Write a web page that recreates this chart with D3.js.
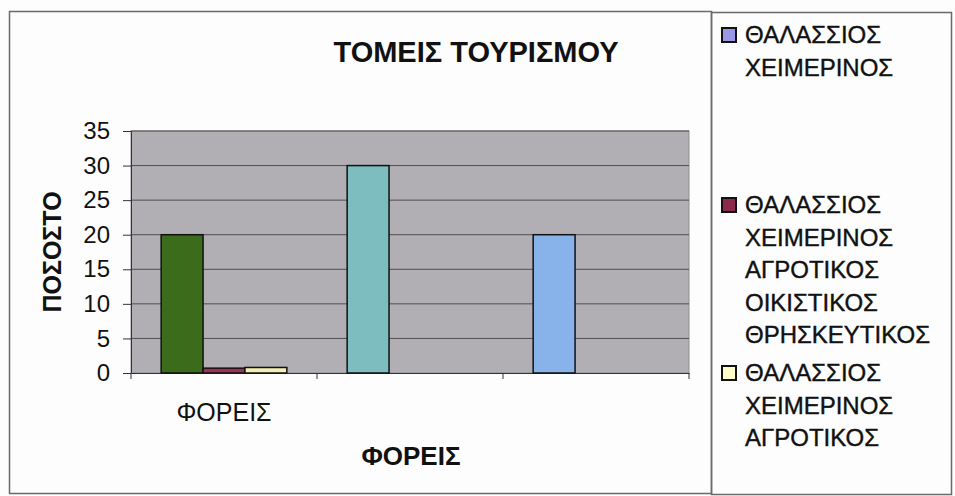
<!DOCTYPE html>
<html>
<head>
<meta charset="utf-8">
<script src="https://cdn.jsdelivr.net/npm/d3@7"></script>
<style>
  body { margin: 0; background: #fdfdfd; }
  text { font-family: "Liberation Sans", Arial, sans-serif; fill: #111; }
</style>
</head>
<body>
<div id="chart"></div>
<script>
// categories on the x axis (only the first one is labelled)
const categories = ["c1", "c2", "c3"];
const tickLabels = ["ΦΟΡΕΙΣ", "", ""];

// series values, one per category
const series1 = [20, 30, 20];
const series2 = [0.7, 0, 0];
const series3 = [0.8, 0, 0];
const seriesValues = [series1, series2, series3];

// bar colours (first series varies by point)
const barColors = [
  ["#3b6c1c", "#7dbdbf", "#88b3ea"],
  ["#9e3058", "#9e3058", "#9e3058"],
  ["#f2f0b4", "#f2f0b4", "#f2f0b4"]
];

// legend
const legendLabels = [
  ["ΘΑΛΑΣΣΙΟΣ", "ΧΕΙΜΕΡΙΝΟΣ"],
  ["ΘΑΛΑΣΣΙΟΣ", "ΧΕΙΜΕΡΙΝΟΣ", "ΑΓΡΟΤΙΚΟΣ", "ΟΙΚΙΣΤΙΚΟΣ", "ΘΡΗΣΚΕΥΤΙΚΟΣ"],
  ["ΘΑΛΑΣΣΙΟΣ", "ΧΕΙΜΕΡΙΝΟΣ", "ΑΓΡΟΤΙΚΟΣ"]
];
const legendColors = ["#9a98e4", "#8c2a4c", "#fdfdc8"];
const legendBase = [43, 213, 381];

const yTicks = [0, 5, 10, 15, 20, 25, 30, 35];

const W = 955, H = 496;
const plot = {left: 131, right: 689, top: 131, bottom: 373};

const svg = d3.select("#chart")
  .append("svg")
    .attr("width", W)
    .attr("height", H);

// outer frames
svg.append("rect")
  .attr("x", 9.5).attr("y", 11.5)
  .attr("width", 702).attr("height", 482)
  .attr("fill", "none").attr("stroke", "#6a6a6a").attr("stroke-width", 1.5);
svg.append("rect")
  .attr("x", 711.5).attr("y", 12.5)
  .attr("width", 240).attr("height", 482)
  .attr("fill", "none").attr("stroke", "#6a6a6a").attr("stroke-width", 1.5);

// scales
const x0 = d3.scaleBand()
  .domain(categories)
  .range([plot.left, plot.right]);

const x1 = d3.scaleBand()
  .domain(d3.range(seriesValues.length))
  .range([0, x0.bandwidth()])
  .paddingOuter(0.72);

const y = d3.scaleLinear()
  .domain([0, 35])
  .range([plot.bottom, plot.top]);

// plot area
svg.append("rect")
  .attr("x", plot.left).attr("y", plot.top)
  .attr("width", plot.right - plot.left).attr("height", plot.bottom - plot.top)
  .attr("fill", "#b1afb3").attr("stroke", "#8d8c90");

// gridlines
svg.append("g")
  .selectAll("line")
  .data(yTicks.filter(d => d > 0))
  .join("line")
    .attr("x1", plot.left).attr("x2", plot.right)
    .attr("y1", d => y(d)).attr("y2", d => y(d))
    .attr("stroke", "#4e4e4e").attr("stroke-width", 1);

// y axis
const yAxis = svg.append("g")
  .attr("transform", `translate(${plot.left},0)`)
  .call(d3.axisLeft(y).tickValues(yTicks).tickSize(8).tickPadding(13));
yAxis.select(".domain").attr("stroke", "#333");
yAxis.selectAll(".tick line").attr("stroke", "#333");
yAxis.selectAll("text")
  .style("font-size", "24px").attr("fill", "#222")
  .style("font-family", "Liberation Sans, Arial, sans-serif");

// x axis
const xAxis = svg.append("g")
  .attr("transform", `translate(0,${plot.bottom})`)
  .call(d3.axisBottom(x0).tickSize(0).tickFormat((d, i) => tickLabels[i]).tickPadding(30));
xAxis.select(".domain").attr("stroke", "#333");
xAxis.selectAll("text")
  .style("font-size", "25px").attr("fill", "#222")
  .style("font-family", "Liberation Sans, Arial, sans-serif");

// category separators
svg.append("g")
  .selectAll("line")
  .data(categories.concat(["end"]))
  .join("line")
    .attr("x1", d => d === "end" ? plot.right : x0(d))
    .attr("x2", d => d === "end" ? plot.right : x0(d))
    .attr("y1", plot.bottom).attr("y2", plot.bottom + 6)
    .attr("stroke", "#333");

// bars
const barData = [];
seriesValues.forEach((vals, s) => {
  vals.forEach((v, c) => {
    if (v > 0) barData.push({s, c, v});
  });
});

svg.append("g")
  .selectAll("rect")
  .data(barData)
  .join("rect")
    .attr("x", d => x0(categories[d.c]) + x1(d.s))
    .attr("y", d => y(d.v))
    .attr("width", x1.bandwidth())
    .attr("height", d => y(0) - y(d.v))
    .attr("fill", d => barColors[d.s][d.c])
    .attr("stroke", "#111")
    .attr("stroke-width", 1.5);

// titles
svg.append("text")
  .attr("x", 476).attr("y", 62)
  .attr("text-anchor", "middle")
  .style("font-size", "29px").style("font-weight", "bold")
  .text("ΤΟΜΕΙΣ ΤΟΥΡΙΣΜΟΥ");

svg.append("text")
  .attr("transform", "translate(61,252) rotate(-90)")
  .attr("text-anchor", "middle")
  .style("font-size", "25px").style("font-weight", "bold")
  .text("ΠΟΣΟΣΤΟ");

svg.append("text")
  .attr("x", 411).attr("y", 465)
  .attr("text-anchor", "middle")
  .style("font-size", "26px").style("font-weight", "bold")
  .text("ΦΟΡΕΙΣ");

// legend
const legend = svg.append("g");
legendLabels.forEach((lines, i) => {
  const g = legend.append("g").attr("transform", `translate(0,${legendBase[i]})`);
  g.append("rect")
    .attr("x", 722).attr("y", -15)
    .attr("width", 14).attr("height", 14)
    .attr("fill", legendColors[i]).attr("stroke", "#111").attr("stroke-width", 2);
  g.selectAll("text")
    .data(lines)
    .join("text")
      .attr("x", 745)
      .attr("y", (d, j) => j * 32.5)
      .style("font-size", "24px")
      .attr("stroke", "#111").attr("stroke-width", 0.4)
      .text(d => d);
});
</script>
</body>
</html>
